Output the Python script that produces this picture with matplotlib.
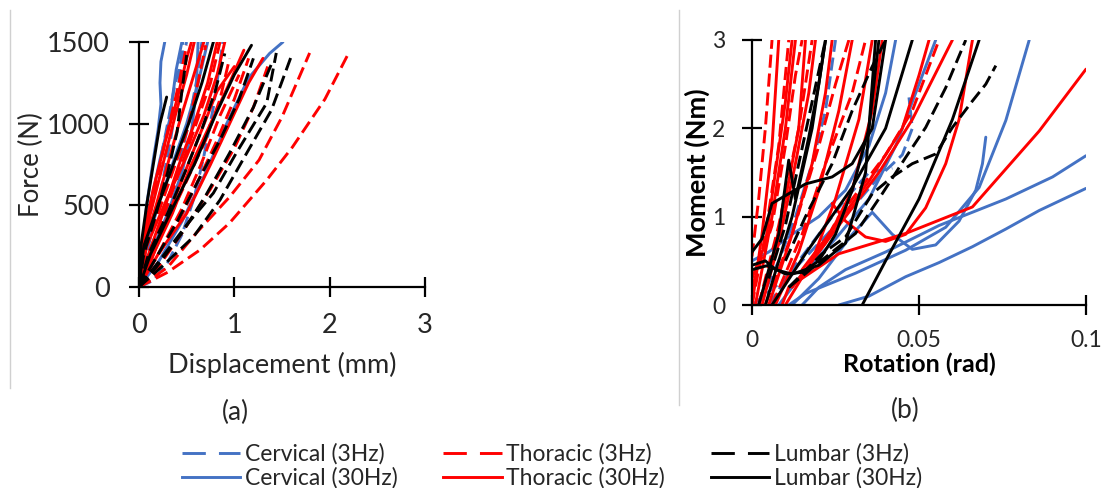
import matplotlib
matplotlib.use("Agg")
import matplotlib.pyplot as plt
from matplotlib.lines import Line2D

plt.rcParams["font.family"] = ["Lato", "DejaVu Sans"]

BLUE = "#4472C4"
RED = "#FF0000"
BLACK = "#000000"

# (a) force (N) vs displacement (mm), one list of (x, F) per specimen
cerv3_a = [
    [(0, 0), (0.15, 40), (0.3, 150), (0.45, 320), (0.58, 550), (0.68, 800), (0.78, 1100), (0.88, 1500)],
    [(0, 0), (0.06, 150), (0.15, 380), (0.25, 650), (0.33, 900), (0.4, 1150), (0.46, 1500)],
    [(0, 0), (0.05, 200), (0.12, 450), (0.2, 700), (0.3, 1000), (0.38, 1250), (0.5, 1500)],
    [(0, 0), (0.1, 150), (0.25, 400), (0.4, 700), (0.52, 1000), (0.6, 1250), (0.66, 1500)],
]
cerv30_a = [
    [(0, 0), (0.03, 200), (0.08, 500), (0.15, 780), (0.2, 960), (0.23, 1120), (0.22, 1250), (0.23, 1380), (0.27, 1500)],
    [(0, 0), (0.01, 200), (0.12, 510), (0.22, 780), (0.32, 1020), (0.39, 1330), (0.45, 1500)],
    [(0, 0), (0.08, 250), (0.2, 500), (0.35, 750), (0.5, 1000), (0.62, 1250), (0.72, 1500)],
    [(0, 0), (0.2, 150), (0.45, 400), (0.7, 700), (0.92, 1000), (1.15, 1280), (1.37, 1430), (1.51, 1500)],
    [(0, 0), (0.12, 200), (0.3, 450), (0.45, 700), (0.55, 950), (0.6, 1200), (0.62, 1500)],
]
thor3_a = [
    [(0, 0), (0.3, 90), (0.64, 227), (0.95, 392), (1.34, 655), (1.61, 857), (1.95, 1150), (2.2, 1433)],
    [(0, 0), (0.3, 120), (0.6, 330), (0.95, 551), (1.26, 778), (1.5, 1041), (1.79, 1433)],
    [(0, 0), (0.2, 120), (0.45, 330), (0.75, 600), (1.0, 850), (1.2, 1100), (1.35, 1350)],
    [(0, 0), (0.1, 150), (0.3, 400), (0.5, 650), (0.7, 900), (0.85, 1150), (0.95, 1400)],
    [(0, 0), (0.05, 200), (0.2, 450), (0.35, 700), (0.5, 950), (0.6, 1200), (0.7, 1480)],
    [(0, 0), (0.08, 180), (0.25, 420), (0.42, 700), (0.6, 1000), (0.75, 1250), (0.85, 1500)],
    [(0, 0), (0.15, 150), (0.4, 380), (0.62, 650), (0.82, 900), (1.0, 1150), (1.15, 1400)],
    [(0, 0), (0.03, 220), (0.12, 480), (0.22, 750), (0.32, 1000), (0.42, 1250), (0.5, 1480)],
    [(0, 0), (0.2, 200), (0.45, 480), (0.65, 750), (0.85, 1050), (1.05, 1300)],
]
thor30_a = [
    [(0, 0), (0.05, 250), (0.18, 500), (0.3, 750), (0.42, 1000), (0.55, 1250), (0.68, 1500)],
    [(0, 0), (0.1, 200), (0.25, 450), (0.42, 750), (0.58, 1000), (0.72, 1250), (0.82, 1500)],
    [(0, 0), (0.02, 200), (0.12, 450), (0.25, 750), (0.38, 1050), (0.5, 1300), (0.58, 1500)],
    [(0, 0), (0.15, 200), (0.35, 450), (0.55, 750), (0.75, 1000), (0.95, 1250), (1.1, 1450)],
    [(0, 0), (0.08, 250), (0.3, 550), (0.5, 800), (0.68, 1050), (0.82, 1300), (0.9, 1500)],
    [(0, 0), (0.2, 200), (0.5, 450), (0.75, 750), (0.95, 1000), (1.15, 1250), (1.3, 1400)],
    [(0, 0), (0.04, 300), (0.15, 600), (0.28, 900), (0.4, 1150), (0.5, 1400), (0.55, 1500)],
    [(0, 0), (0.12, 150), (0.28, 400), (0.48, 700), (0.65, 950), (0.82, 1200), (1.0, 1350)],
]
lumb3_a = [
    [(0, 0), (0.25, 130), (0.57, 306), (0.85, 533), (1.13, 820), (1.39, 1084), (1.61, 1433)],
    [(0, 0), (0.2, 150), (0.5, 380), (0.78, 575), (1.02, 820), (1.34, 1127), (1.44, 1433)],
    [(0, 0), (0.15, 150), (0.4, 400), (0.62, 650), (0.85, 900), (1.05, 1150), (1.2, 1400)],
    [(0, 0), (0.1, 200), (0.3, 450), (0.48, 700), (0.65, 950), (0.8, 1200), (0.9, 1430)],
    [(0, 0), (0.05, 200), (0.18, 450), (0.3, 700), (0.4, 950), (0.45, 1200), (0.5, 1420)],
    [(0, 0), (0.18, 120), (0.45, 330), (0.7, 560), (0.95, 820), (1.2, 1100), (1.4, 1380)],
]
lumb30_a = [
    [(0, 0), (0.02, 250), (0.08, 500), (0.15, 750), (0.22, 1000), (0.29, 1163)],
    [(0, 0), (0.12, 200), (0.35, 480), (0.58, 750), (0.8, 1050), (1.0, 1300), (1.18, 1480)],
    [(0, 0), (0.05, 250), (0.2, 500), (0.36, 750), (0.52, 1000), (0.66, 1250), (0.78, 1500)],
]

# (b) moment (Nm) vs rotation (rad)
cerv3_b = [
    [(0.0, 0), (0.01, 0.3), (0.02, 0.7), (0.03, 1.1), (0.038, 1.45), (0.045, 1.7), (0.048, 2.0), (0.047, 2.35)],
    [(0.005, 0), (0.012, 0.4), (0.02, 0.8), (0.028, 1.2), (0.035, 1.5), (0.042, 1.55)],
    [(0.002, 0), (0.008, 0.5), (0.013, 1.0), (0.018, 1.6), (0.022, 2.2), (0.025, 3)],
]
cerv30_b = [
    [(0.026, 0), (0.035, 0.1), (0.046, 0.32), (0.056, 0.48), (0.066, 0.66), (0.076, 0.86), (0.086, 1.07), (0.1, 1.32)],
    [(0.015, 0), (0.02, 0.2), (0.028, 0.4), (0.04, 0.6), (0.056, 0.9), (0.076, 1.2), (0.09, 1.45), (0.1, 1.69)],
    [(0.011, 0), (0.016, 0.13), (0.031, 0.36), (0.046, 0.62), (0.058, 0.88), (0.068, 1.33), (0.076, 2.09), (0.083, 3)],
    [(0.012, 0), (0.02, 0.3), (0.03, 0.8), (0.036, 1.05), (0.042, 0.8), (0.048, 0.63), (0.055, 0.68),
     (0.062, 0.95), (0.067, 1.3), (0.069, 1.6), (0.07, 1.9)],
    [(0.008, 0), (0.015, 0.35), (0.025, 0.75), (0.035, 1.2), (0.043, 1.8), (0.05, 2.5), (0.055, 3)],
    [(0.0, 0.5), (0.005, 0.6), (0.012, 0.8), (0.02, 1.0), (0.028, 1.3), (0.035, 1.8), (0.04, 2.4), (0.043, 3)],
]
thor3_b = [
    [(0.0, 0.55), (0.002, 1.2), (0.004, 2.0), (0.006, 3)],
    [(0.0, 0), (0.004, 0.8), (0.008, 1.8), (0.011, 3)],
    [(0.002, 0), (0.008, 0.9), (0.014, 2.0), (0.018, 3)],
    [(0.004, 0), (0.012, 0.8), (0.02, 1.8), (0.025, 2.5), (0.029, 3)],
    [(0.006, 0), (0.015, 0.8), (0.022, 1.6), (0.03, 2.4), (0.034, 3)],
    [(0.02, 0.6), (0.026, 1.0), (0.032, 1.3), (0.04, 1.7), (0.048, 2.2), (0.052, 2.6), (0.056, 3)],
    [(0.0, 0.2), (0.006, 0.9), (0.01, 1.8), (0.013, 2.6), (0.015, 3)],
]
thor30_b = [
    [(0.009, 0), (0.011, 0.2), (0.026, 0.58), (0.046, 0.81), (0.066, 1.11), (0.086, 1.97), (0.1, 2.67)],
    [(0.024, 1.15), (0.028, 0.95), (0.034, 0.77), (0.04, 0.72), (0.046, 0.8), (0.052, 1.1), (0.058, 1.6),
     (0.062, 2.1), (0.066, 3)],
    [(0.0, 0), (0.003, 0.8), (0.006, 1.8), (0.008, 3)],
    [(0.001, 0), (0.006, 1.0), (0.01, 2.0), (0.013, 3)],
    [(0.003, 0), (0.008, 0.7), (0.013, 1.6), (0.017, 2.4), (0.019, 3)],
    [(0.005, 0), (0.012, 0.8), (0.018, 1.6), (0.022, 2.4), (0.024, 3)],
    [(0.007, 0), (0.014, 0.6), (0.02, 1.3), (0.026, 2.2), (0.03, 3)],
    [(0.01, 0), (0.018, 0.5), (0.025, 1.2), (0.032, 2.1), (0.036, 3)],
    [(0.012, 0.2), (0.022, 0.7), (0.03, 1.3), (0.036, 2.2), (0.039, 3)],
    [(0.015, 0.4), (0.025, 0.9), (0.035, 1.4), (0.045, 2.0), (0.05, 2.6), (0.053, 3)],
    [(0.018, 0.5), (0.028, 1.0), (0.038, 1.5), (0.048, 2.1), (0.056, 2.7), (0.06, 3)],
    [(0.0, 0.3), (0.004, 0.7), (0.007, 1.5), (0.01, 2.3), (0.012, 3)],
    [(0.002, 0), (0.006, 0.5), (0.01, 1.2), (0.014, 2.0), (0.016, 3)],
]
lumb3_b = [
    [(0.011, 0.2), (0.021, 0.58), (0.028, 0.77), (0.036, 1.26), (0.042, 1.45), (0.048, 1.6), (0.055, 1.71),
     (0.06, 2.01), (0.066, 2.31), (0.07, 2.5), (0.073, 2.71)],
    [(0.011, 0.2), (0.021, 0.51), (0.031, 0.81), (0.039, 1.26), (0.046, 1.67), (0.052, 2.01), (0.058, 2.46), (0.064, 3)],
    [(0.005, 0.3), (0.01, 0.9), (0.014, 1.6), (0.018, 2.3), (0.022, 3)],
    [(0.01, 0.5), (0.016, 1.0), (0.024, 1.6), (0.03, 2.2), (0.036, 2.7), (0.04, 3)],
]
lumb30_b = [
    [(0.033, 0), (0.04, 0.5), (0.05, 1.2), (0.06, 2.1), (0.068, 3)],
    [(0.006, 0), (0.016, 0.58), (0.03, 1.33), (0.04, 2.0), (0.048, 3)],
    [(0.0, 0.4), (0.005, 0.45), (0.01, 0.35), (0.015, 0.37), (0.02, 0.5), (0.025, 0.8), (0.03, 1.3), (0.035, 2.0), (0.038, 3)],
    [(0.0, 0.6), (0.003, 0.75), (0.006, 1.15), (0.016, 1.37), (0.024, 1.45), (0.03, 1.6), (0.036, 2.0), (0.04, 3)],
    [(0.002, 0), (0.008, 0.8), (0.011, 1.64), (0.013, 1.2), (0.017, 1.9), (0.02, 2.5), (0.022, 3)],
    [(0.004, 0), (0.012, 1.0), (0.018, 2.0), (0.022, 3)],
    [(0.0, 0.45), (0.004, 0.5), (0.007, 0.4), (0.012, 0.35), (0.02, 0.45), (0.028, 0.7), (0.034, 1.5), (0.037, 3)],
]

legend_labels = ["Cervical (3Hz)", "Cervical (30Hz)", "Thoracic (3Hz)",
                 "Thoracic (30Hz)", "Lumbar (3Hz)", "Lumbar (30Hz)"]

LW = 2.1
DASH = (4.5, 2)
TEXT = "#262626"


def draw_group(ax, curves, color, dashed):
    for c in curves:
        xs = [p[0] for p in c]
        ys = [p[1] for p in c]
        line, = ax.plot(xs, ys, color=color, lw=LW, solid_capstyle="round")
        if dashed:
            line.set_dashes(DASH)


def style_axes(ax, tick_size):
    for s in ("top", "right"):
        ax.spines[s].set_visible(False)
    for s in ("left", "bottom"):
        ax.spines[s].set_linewidth(1.6)
        ax.spines[s].set_color("black")
    ax.tick_params(direction="inout", length=14, width=1.6, labelsize=tick_size,
                   colors="black", labelcolor=TEXT)


fig = plt.figure(figsize=(11.04, 4.88), dpi=100)

ax_a = fig.add_axes([139 / 1104, 1 - 287 / 488, (425 - 139) / 1104, (287 - 42) / 488])
ax_b = fig.add_axes([752 / 1104, 1 - 305 / 488, (1086 - 752) / 1104, (305 - 40) / 488])

groups_a = [(cerv3_a, BLUE, True), (cerv30_a, BLUE, False), (thor3_a, RED, True),
            (thor30_a, RED, False), (lumb3_a, BLACK, True), (lumb30_a, BLACK, False)]
groups_b = [(cerv3_b, BLUE, True), (cerv30_b, BLUE, False), (thor3_b, RED, True),
            (thor30_b, RED, False), (lumb3_b, BLACK, True), (lumb30_b, BLACK, False)]

for curves, color, dashed in groups_a:
    draw_group(ax_a, curves, color, dashed)
for curves, color, dashed in groups_b:
    draw_group(ax_b, curves, color, dashed)

ax_a.set_xlim(0, 3)
ax_a.set_ylim(0, 1500)
ax_a.set_xticks([0, 1, 2, 3])
ax_a.set_yticks([0, 500, 1000, 1500])
style_axes(ax_a, 19.5)
ax_a.tick_params(axis="x", pad=12)
ax_a.tick_params(axis="y", pad=14)
ax_a.set_xlabel("Displacement (mm)", fontsize=19.5, color=TEXT, labelpad=10)
ax_a.set_ylabel("Force (N)", fontsize=18.5, color=TEXT, labelpad=2)

ax_b.set_xlim(0, 0.1)
ax_b.set_ylim(0, 3)
ax_b.set_xticks([0, 0.05, 0.1])
ax_b.set_xticklabels(["0", "0.05", "0.1"])
ax_b.set_yticks([0, 1, 2, 3])
style_axes(ax_b, 16.5)
ax_b.tick_params(axis="x", pad=11)
ax_b.tick_params(axis="y", pad=12)
ax_b.set_xlabel("Rotation (rad)", fontsize=18, fontweight="bold", color="black", labelpad=1)
ax_b.set_ylabel("Moment (Nm)", fontsize=19.5, fontweight="bold", color="black", labelpad=2)

fig.text(235 / 1104, 1 - 412 / 488, "(a)", fontsize=19, ha="center", va="center", color=TEXT)
fig.text(905 / 1104, 1 - 410 / 488, "(b)", fontsize=19, ha="center", va="center", color=TEXT)

# thin grey frame edges of the two sub-figures
fig.add_artist(Line2D([10 / 1104, 10 / 1104], [1 - 10 / 488, 1 - 388 / 488],
                      transform=fig.transFigure, color="#d0d0d0", lw=1))
fig.add_artist(Line2D([679 / 1104, 679 / 1104], [1 - 10 / 488, 1 - 405 / 488],
                      transform=fig.transFigure, color="#d0d0d0", lw=1))

handles = []
for color in (BLUE, RED, BLACK):
    h1 = Line2D([], [], color=color, lw=LW, dashes=(8, 4.5))
    h2 = Line2D([], [], color=color, lw=LW)
    handles += [h1, h2]

fig.legend(handles, legend_labels, ncol=3, loc="center", bbox_to_anchor=(0.5, 1 - 466 / 488),
           frameon=False, fontsize=16.5, handlelength=2.55, handletextpad=0.2,
           columnspacing=2.0, labelspacing=0.12, labelcolor=TEXT,
           borderpad=0, borderaxespad=0)

fig.savefig("out.png", dpi=100)
